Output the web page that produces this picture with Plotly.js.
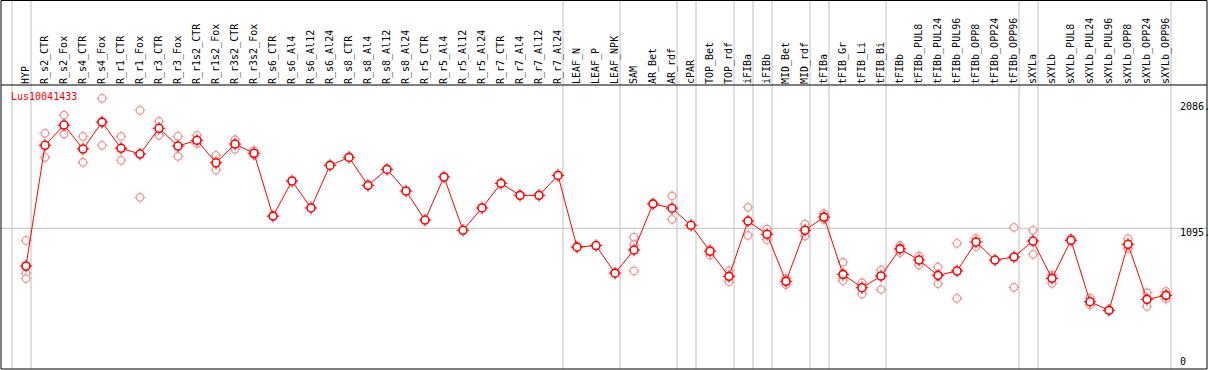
<!DOCTYPE html>
<html>
<head>
<meta charset="utf-8">
<script src="https://cdn.plot.ly/plotly-3.0.1.min.js"></script>
<style>html,body{margin:0;padding:0;background:#fff;}#chart{width:1209px;height:370px;}</style>
</head>
<body>
<div id="chart"></div>
<script>
const categories = ["HYP","R_s2_CTR","R_s2_Fox","R_s4_CTR","R_s4_Fox","R_r1_CTR","R_r1_Fox","R_r3_CTR","R_r3_Fox","R_r1s2_CTR","R_r1s2_Fox","R_r3s2_CTR","R_r3s2_Fox","R_s6_CTR","R_s6_Al4","R_s6_Al12","R_s6_Al24","R_s8_CTR","R_s8_Al4","R_s8_Al12","R_s8_Al24","R_r5_CTR","R_r5_Al4","R_r5_Al12","R_r5_Al24","R_r7_CTR","R_r7_Al4","R_r7_Al12","R_r7_Al24","LEAF_N","LEAF_P","LEAF_NPK","SAM","AR_Bet","AR_rdf","cPAR","TOP_Bet","TOP_rdf","iFIBa","iFIBb","MID_Bet","MID_rdf","tFIBa","tFIB_Gr","tFIB_Li","tFIB_Bi","tFIBb","tFIBb_PUL8","tFIBb_PUL24","tFIBb_PUL96","tFIBb_OPP8","tFIBb_OPP24","tFIBb_OPP96","sXYLa","sXYLb","sXYLb_PUL8","sXYLb_PUL24","sXYLb_PUL96","sXYLb_OPP8","sXYLb_OPP24","sXYLb_OPP96"];

const groupSizes = [1, 28, 3, 3, 1, 2, 1, 1, 2, 1, 3, 7, 1, 7];

const meanValues = [793,1760,1922,1730,1946,1736,1690,1896,1754,1800,1620,1770,1696,1193,1474,1258,1599,1663,1439,1567,1394,1161,1506,1079,1258,1455,1359,1359,1519,944,957,736,921,1291,1256,1119,911,710,1153,1047,670,1079,1185,726,619,713,930,841,718,753,985,841,865,993,694,999,507,438,967,526,558];

const rep1 = [998,1856,2002,1832,2136,1832,2040,1952,1832,1840,1680,1805,1717,null,null,null,null,null,null,null,null,null,null,null,null,null,null,null,null,null,null,null,1025,null,1354,null,927,755,1263,1089,694,1129,1212,823,659,761,956,873,785,975,1015,null,1103,1079,721,1015,537,null,1012,579,590];
const rep2 = [735,1664,1850,1624,1760,1640,1343,1840,1672,1773,1562,1728,1680,null,null,null,null,null,null,null,null,null,null,null,null,null,null,null,null,null,null,null,964,null,1167,null,881,667,1039,1004,643,1033,1164,691,569,606,900,801,651,534,948,null,622,887,654,null,481,null,932,470,529];
const rep3 = [693,null,null,null,null,null,null,null,null,null,null,null,null,null,null,null,null,null,null,null,null,null,null,null,null,null,null,null,null,null,null,null,754,null,null,null,null,null,null,null,null,null,null,675,null,null,null,null,null,null,null,null,null,null,null,null,null,null,null,null,null];

const geneName = "Lus10041433";
const yTickVals = [0, 1095, 2086];
const yTickText = ["0", "1095.", "2086."];
const refLineValue = 1095;

const pink = '#ee9999', red = '#ff0000';
const traces = [];
[rep1, rep2, rep3].forEach(arr => {
  traces.push({type:'scatter', mode:'markers', x: categories, y: arr,
    marker:{symbol:'cross-thin-open', size:8, color:pink, line:{width:1, color:pink}}, hoverinfo:'skip'});
  traces.push({type:'scatter', mode:'markers', x: categories, y: arr,
    marker:{symbol:'circle', size:7.5, color:'#ffffff', line:{width:1.3, color:pink}}, hoverinfo:'skip'});
});
traces.push({type:'scatter', mode:'lines', x: categories, y: meanValues,
  line:{color:red, width:1}, hoverinfo:'skip'});
traces.push({type:'scatter', mode:'markers', x: categories, y: meanValues,
  marker:{symbol:'cross-thin-open', size:9, color:red, line:{width:1, color:red}}, hoverinfo:'skip'});
traces.push({type:'scatter', mode:'markers', x: categories, y: meanValues,
  marker:{symbol:'circle', size:8, color:'#ffffff', line:{width:1.6, color:red}}, hoverinfo:'skip'});

const W = 1209, H = 370;
const mL = 1, mR = 2, mT = 85, mB = 1;
const plotH = H - mT - mB;
const yTopPaper = (H - mB - 0.5) / plotH;

const shapes = [];
let idx = -1;
const sepPos = [idx + 0.263];
groupSizes.forEach(s => { idx += s; sepPos.push(idx + 0.263); });
sepPos.forEach(p => shapes.push({type:'line', xref:'x', yref:'paper', x0:p, x1:p, y0:0, y1:yTopPaper,
  line:{color:'#c0c0c0', width:1}, layer:'below'}));
shapes.push({type:'line', xref:'paper', yref:'y', x0:0, x1:1, y0:refLineValue, y1:refLineValue,
  line:{color:'#c0c0c0', width:1}, layer:'below'});
shapes.push({type:'rect', xref:'paper', yref:'paper', x0:0, x1:1, y0:0, y1:yTopPaper,
  line:{color:'#000', width:1}, fillcolor:'rgba(0,0,0,0)'});
shapes.push({type:'line', xref:'paper', yref:'paper', x0:0, x1:1, y0:1, y1:1,
  line:{color:'#000', width:1}});

const annotations = [];
annotations.push({xref:'paper', yref:'paper', x:(9-mL)/(W-mL-mR), y:1 - (97-mT)/plotH, xanchor:'left', yanchor:'middle',
  text: geneName, showarrow:false, font:{family:'DejaVu Sans Mono', size:10, color:red}});
const yShifts = [4, -4, -2];
yTickVals.forEach((v, k) => annotations.push({xref:'paper', yref:'y', x:(1178-mL)/(W-mL-mR), y:v, xanchor:'left', yanchor:'middle',
  yshift: yShifts[k], text: yTickText[k], showarrow:false, font:{family:'DejaVu Sans Mono', size:10, color:'#000'}}));

const layout = {
  width: W, height: H,
  margin:{l:mL, r:mR, t:mT, b:mB, pad:0},
  paper_bgcolor:'#fff', plot_bgcolor:'#fff',
  showlegend:false,
  xaxis:{type:'category', categoryorder:'array', categoryarray: categories, side:'top', range:[-1.3158, 62.158], tickangle:-90,
    tickfont:{family:'DejaVu Sans Mono', size:10, color:'#000'},
    showgrid:false, zeroline:false, showline:false, ticks:'', automargin:false, fixedrange:true},
  yaxis:{range:[-32, 2243], showgrid:false, zeroline:false, showline:false, showticklabels:false, ticks:'', fixedrange:true},
  shapes: shapes,
  annotations: annotations
};

Plotly.newPlot('chart', traces, layout, {staticPlot:true, displayModeBar:false});
</script>
</body>
</html>
